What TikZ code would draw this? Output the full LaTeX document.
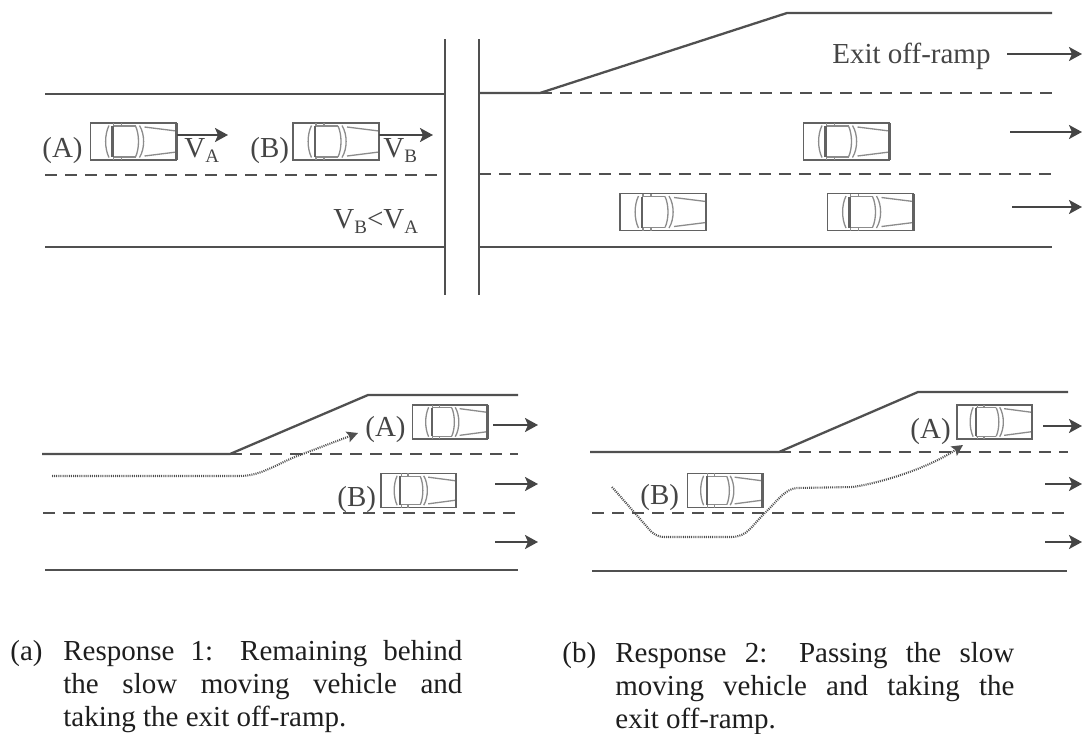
\documentclass[tikz,border=0pt]{standalone}
\usepackage{fontspec}
\setmainfont{Liberation Serif}
\usetikzlibrary{arrows.meta}

\definecolor{road}{HTML}{505050}
\definecolor{ink}{HTML}{454545}
\definecolor{carout}{HTML}{626262}
\definecolor{cardet}{HTML}{8C8C8C}
\definecolor{captext}{HTML}{1E1E1E}

% lowered small index letter (V_A, V_B)
\newcommand\lowsub[1]{\raisebox{-2.6pt}{\fontsize{9.5}{9.5}\selectfont #1}}

\begin{document}
\begin{tikzpicture}[x=0.5pt,y=-0.5pt,
  roadline/.style={draw=road, line width=1.15pt, line join=round},
  lanemark/.style={draw=road, line width=1.15pt, dash pattern=on 6pt off 4pt},
  trackline/.style={draw=road, line width=1.05pt, dash pattern=on 0.5pt off 0.55pt,
    -{Stealth[length=5.5pt,width=5.5pt,inset=1pt]}},
  flow/.style={draw=ink, line width=1pt, -{Stealth[length=6.5pt,width=7pt,inset=1.5pt]}},
  lbl/.style={inner sep=0pt, text=ink, font=\fontsize{14.5}{16}\selectfont},
  caplbl/.style={inner sep=0pt, text=captext, font=\fontsize{14.5}{16.5}\selectfont},
  captxt/.style={caplbl, text width=199.5pt, align=justify},
  % top view of a car, front to the right; body 86 x 37 units
  pics/car/.style={code={
    \draw[carout, line width=0.75pt, fill=white] (-43,-18.5) rectangle (43,18.5);
    % mirrors / pillars
    \draw[cardet, line width=0.55pt] (-20,-18.5) -- (-20,-15.5) (-12,-18.5) -- (-12,-15.5)
                                     (-20,18.5) -- (-20,15.5) (-12,18.5) -- (-12,15.5);
    % rear window
    \draw[cardet, line width=0.65pt] (-24.5,-16) .. controls (-29,-7) and (-29,7) .. (-24.5,16);
    % roof
    \draw[cardet, line width=0.65pt] (-21,-15.5) -- (2,-15.5) (-21,15.5) -- (2,15.5);
    \draw[carout, line width=1.05pt] (-21,-15.5) -- (-21,15.5);
    % windscreen
    \draw[cardet, line width=0.65pt] (2,-15.5) .. controls (6,-7) and (6,7) .. (2,15.5);
    \draw[cardet, line width=0.65pt] (6,-16) .. controls (11.5,-7) and (11.5,7) .. (6,16);
    % bonnet
    \draw[cardet, line width=0.65pt] (11,-14.5) -- (43,-10.5) (11,14.5) -- (43,10.5);
    \draw[carout, line width=1.05pt] (43,-18.5) -- (43,18.5);
    \coordinate (-nose) at (43,-6.5);
  }},
]
\useasboundingbox (0,0) rectangle (1083,734);

% ---------- upper left: two vehicles approaching the junction ----------
\draw[roadline] (45,94) -- (445,94);
\draw[lanemark] (45,175) -- (445,175);
\draw[roadline] (45,247) -- (445,247);
\draw[roadline] (445,39) -- (445,295);
\draw[roadline] (479,39) -- (479,295);

\pic (carA) at (133.5,141.5) {car};
\pic (carB) at (336,141.5) {car};
\coordinate (vAend) at (228,135);
\coordinate (vBend) at (433,135);
\draw[flow] (carA-nose) -- (vAend);
\draw[flow] (carB-nose) -- (vBend);

\node[lbl, anchor=base west] (tA) at (42,157) {(A)};
\node[lbl, anchor=base west] (tB) at (250,157) {(B)};
\node[lbl, anchor=base west] (vA) at (184,157) {V\lowsub{A}};
\node[lbl, anchor=base west] (vB) at (383,157) {V\lowsub{B}};
\node[lbl, anchor=base west] (vcmp) at (333,228) {V\lowsub{B}<V\lowsub{A}};

% ---------- upper right: road with exit off-ramp ----------
\draw[roadline] (479,93) -- (540,93) -- (787,13) -- (1052,13);
\draw[lanemark] (540,93) -- (1052,93);
\draw[lanemark] (479,174) -- (1052,174);
\draw[roadline] (479,247) -- (1052,247);

\pic (carR1) at (846.5,141.5) {car};
\pic (carR2) at (663,212) {car};
\pic (carR3) at (870.5,212) {car};

\node[lbl, anchor=base west] (exit) at (832,63) {Exit off-ramp};
\coordinate (exitS) at (1007,54);
\coordinate (exitE) at (1082,54);
\draw[flow] (exitS) -- (exitE);

\foreach \n/\xa/\xb/\yy in {r1/1010/1082/132, r2/1012/1082/207,
    a1/493/538/425, a2/495/538/484, a3/495/538/542,
    b1/1043/1082/426, b2/1045/1082/484, b3/1045/1082/542}{
  \coordinate (f\n s) at (\xa,\yy);
  \coordinate (f\n e) at (\xb,\yy);
  \draw[flow] (f\n s) -- (f\n e);
}

% ---------- lower left: response 1 ----------
\draw[roadline] (42,454) -- (230,454) -- (368,395) -- (518,395);
\draw[lanemark] (230,454) -- (518,454);
\draw[lanemark] (43,513) -- (518,513);
\draw[roadline] (45,570) -- (518,570);

\pic[xscale=0.872, yscale=0.92] (carLA) at (450,422) {car};
\pic[xscale=0.872, yscale=0.92] (carLB) at (418.5,490.5) {car};
\node[lbl, anchor=base west] (lA) at (365,436) {(A)};
\node[lbl, anchor=base west] (lB) at (337,506) {(B)};

\coordinate (trkAs) at (52,476);
\coordinate (trkAe) at (358,433);
\draw[trackline] (trkAs) -- (240,476) .. controls (262,476) and (280,462) .. (300,455) -- (trkAe);

% ---------- lower right: response 2 ----------
\draw[roadline] (590,452) -- (779,452) -- (918,392) -- (1068,392);
\draw[lanemark] (779,452) -- (1068,452);
\draw[lanemark] (592,513) -- (1067,513);
\draw[roadline] (592,571) -- (1067,571);

\pic[xscale=0.872, yscale=0.92] (carPA) at (994.5,422) {car};
\pic[xscale=0.872, yscale=0.92] (carPB) at (725,490.5) {car};
\node[lbl, anchor=base west] (pA) at (910,438) {(A)};
\node[lbl, anchor=base west] (pB) at (640,504) {(B)};

\coordinate (trkBs) at (612,487);
\coordinate (trkBe) at (963,445);
\draw[trackline] (trkBs) -- (648,528) .. controls (653,534) and (657,537) .. (665,537)
  -- (731,537) .. controls (748,537) and (752,525) .. (765,513)
  .. controls (778,500) and (785,489) .. (797,488) -- (853,487)
  .. controls (885,482) and (930,467) .. (trkBe);

% ---------- captions ----------
\node[caplbl, anchor=base west] (capa) at (10,660) {(a)};
\node[captxt, anchor=north west] (capaText) at (63,640)
  {\tolerance=10000\hyphenpenalty=10000\exhyphenpenalty=10000
   Response 1: Remaining behind\linebreak the slow moving vehicle and\linebreak taking the exit off-ramp.};
\node[caplbl, anchor=base west] (capb) at (562,662) {(b)};
\node[captxt, anchor=north west] (capbText) at (615,642)
  {\tolerance=10000\hyphenpenalty=10000\exhyphenpenalty=10000
   Response 2: Passing the slow\linebreak moving vehicle and taking the\linebreak exit off-ramp.};
\end{tikzpicture}
\end{document}
